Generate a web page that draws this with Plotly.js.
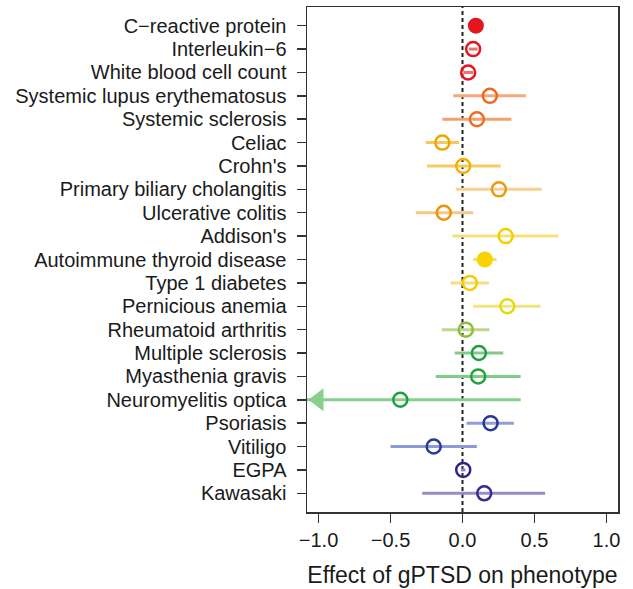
<!DOCTYPE html>
<html>
<head>
<meta charset="utf-8">
<script src="https://cdn.plot.ly/plotly-3.0.1.min.js"></script>
<style>html,body{margin:0;padding:0;background:#fff;}#chart{width:633px;height:589px;}</style>
</head>
<body>
<div id="chart"></div>
<script>
// ---- data (top row first) ----
var phenotypes = ["C\u2212reactive protein","Interleukin\u22126","White blood cell count","Systemic lupus erythematosus","Systemic sclerosis","Celiac","Crohn's","Primary biliary cholangitis","Ulcerative colitis","Addison's","Autoimmune thyroid disease","Type 1 diabetes","Pernicious anemia","Rheumatoid arthritis","Multiple sclerosis","Myasthenia gravis","Neuromyelitis optica","Psoriasis","Vitiligo","EGPA","Kawasaki"];
var estimate = [0.093,0.074,0.039,0.19,0.10,-0.14,0.005,0.253,-0.13,0.30,0.155,0.051,0.311,0.023,0.114,0.109,-0.432,0.195,-0.20,0.005,0.151];
var lowerCI  = [0.08,0.045,0.005,-0.065,-0.14,-0.256,-0.247,-0.047,-0.325,-0.07,0.074,-0.082,0.074,-0.144,-0.054,-0.186,-1.4,0.028,-0.50,-0.01,-0.28];
var upperCI  = [0.106,0.105,0.074,0.44,0.34,-0.024,0.265,0.55,0.074,0.666,0.237,0.183,0.543,0.186,0.283,0.404,0.404,0.357,0.10,0.02,0.574];
var significant = [true,false,false,false,false,false,false,false,false,false,true,false,false,false,false,false,false,false,false,false,false];
// ---- styles ----
var markColor = ["#E3151D","#E3151D","#E3151D","#EB6A1E","#E8701F","#EDA500","#F2B000","#EB9A10","#E8950E","#F3CF00","#F8D300","#F3CD00","#E5DA10","#8DBF3A","#1EA03C","#22A23C","#1EA03C","#2A3595","#2B3A90","#34218A","#3C2A8E"];
var ciColor   = ["#EE7070","#EE7070","#EE7070","#F5A878","#F4A070","#F7C860","#F8CB60","#F8D090","#F5C88A","#F5E080","#F5DC70","#F5DD80","#EDE680","#BCD98E","#7FCB8A","#7FCB8A","#86CF8C","#8FA0D8","#8C9CD6","#8C80C8","#9A8CCC"];

var xRange = [-1.08, 1.08];
var n = phenotypes.length;
var yRange = [n + 0.8, 0.2];
var ml = 307, mr = 15, W = 633;
var pxPerUnit = (W - ml - mr) / (xRange[1] - xRange[0]);

var traces = [];
var yIdx = phenotypes.map(function(_, i){ return i + 1; });
// CI lines first
for (var i = 0; i < n; i++) {
  traces.push({type:'scatter', mode:'lines', x:[lowerCI[i], upperCI[i]], y:[yIdx[i], yIdx[i]],
    line:{color:ciColor[i], width:3}, hoverinfo:'skip', showlegend:false});
}
// arrows for CIs truncated at the axis range
for (var i = 0; i < n; i++) {
  if (lowerCI[i] < xRange[0]) {
    traces.push({type:'scatter', mode:'markers', x:[xRange[0] + 11.5 / pxPerUnit], y:[yIdx[i]],
      marker:{symbol:'triangle-left', size:20, color:ciColor[i]}, cliponaxis:false, hoverinfo:'skip', showlegend:false});
  }
}
// point estimates
for (var i = 0; i < n; i++) {
  traces.push({type:'scatter', mode:'markers', x:[estimate[i]], y:[yIdx[i]],
    marker: significant[i]
      ? {symbol:'circle', size:16, color:markColor[i], line:{width:0}}
      : {symbol:'circle-open', size:14, color:markColor[i], line:{width:2.5, color:markColor[i]}},
    cliponaxis:false, showlegend:false, hovertemplate: phenotypes[i] + ': %{x}<extra></extra>'});
}

var layout = {
  width: 633, height: 589,
  margin: {l: ml, r: mr, t: 7, b: 77},
  paper_bgcolor: '#fff', plot_bgcolor: '#fff',
  font: {family: 'Liberation Sans, Arial, sans-serif', color: '#1a1a1a'},
  showlegend: false,
  xaxis: {
    range: xRange, tickvals: [-1, -0.5, 0, 0.5, 1], tickformat: '.1f',
    ticks: 'outside', ticklen: 9, tickwidth: 1.5, tickcolor: '#333',
    showline: true, mirror: true, linecolor: '#333', linewidth: 1.5,
    showgrid: false, zeroline: false,
    tickfont: {size: 20, color: '#1a1a1a'},
    title: {text: 'Effect of gPTSD on phenotype', font: {size: 23, color: '#1a1a1a'}, standoff: 17}
  },
  yaxis: {
    range: yRange, tickvals: yIdx, ticktext: phenotypes,
    ticks: 'outside', ticklen: 9, tickwidth: 1.5, tickcolor: '#333',
    showline: true, mirror: true, linecolor: '#333', linewidth: 1.5,
    showgrid: false, zeroline: false, ticklabelstandoff: 6,
    tickfont: {size: 20, color: '#1a1a1a'}
  },
  shapes: [{type: 'line', xref: 'x', yref: 'paper', x0: 0, x1: 0, y0: 0, y1: 1,
    line: {color: '#222', width: 2, dash: '4px,3px'}, layer: 'below'}]
};

Plotly.newPlot('chart', traces, layout, {displayModeBar: false, staticPlot: true});
</script>
</body>
</html>
